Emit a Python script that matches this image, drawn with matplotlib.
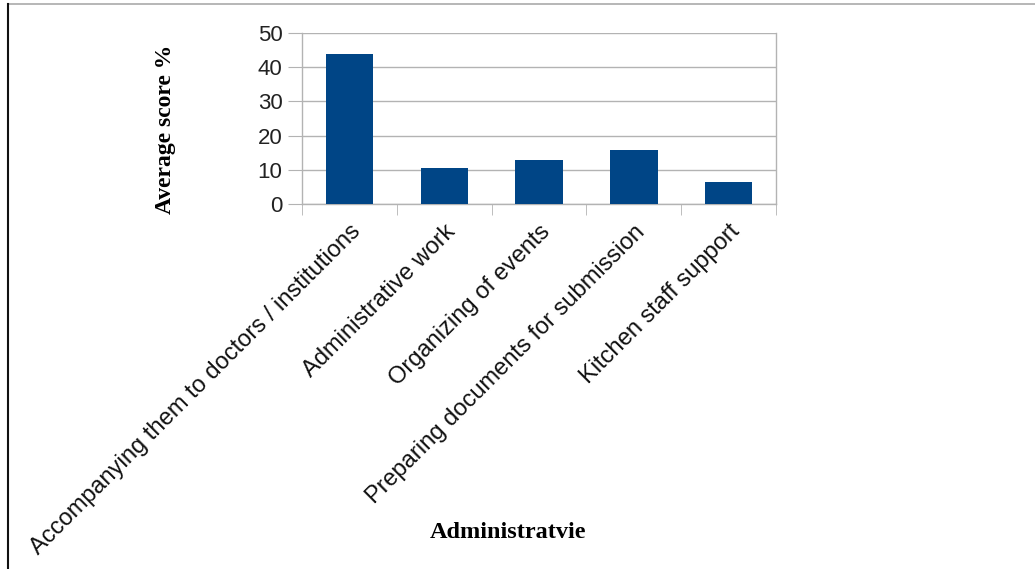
import matplotlib.pyplot as plt
from matplotlib.lines import Line2D

categories = [
    "Accompanying them to doctors / institutions",
    "Administrative work",
    "Organizing of events",
    "Preparing documents for submission",
    "Kitchen staff support",
]
scores = [43.8, 10.4, 12.8, 15.9, 6.3]
y_ticks = [0, 10, 20, 30, 40, 50]

bar_color = "#004586"
grid_color = "#b3b3b3"

fig = plt.figure(figsize=(10.35, 5.69), dpi=100)
ax = fig.add_axes([0.2918, 0.6415, 0.4580, 0.3005])

x = range(len(categories))
ax.bar(x, scores, width=0.5, color=bar_color, zorder=3)

ax.set_xlim(-0.5, len(categories) - 0.5)
ax.set_ylim(0, 50)
ax.set_yticks(y_ticks)
ax.yaxis.grid(True, color=grid_color, linewidth=1.0, zorder=0)

# category labels on major ticks, tick marks between categories
ax.set_xticks(list(x))
ax.set_xticklabels(categories, rotation=45, ha="right", va="top",
                   rotation_mode="anchor", fontsize=17,
                   family="Liberation Sans", color="#111111")
ax.tick_params(axis="x", which="major", length=0, pad=12)
ax.set_xticks([i - 0.5 for i in range(len(categories) + 1)], minor=True)
ax.tick_params(axis="x", which="minor", length=8, color=grid_color, direction="out")

ax.tick_params(axis="y", length=10, color=grid_color, labelsize=16, pad=4,
               labelcolor="#222222")
for lbl in ax.get_yticklabels():
    lbl.set_family("Liberation Sans")

for side in ["left", "right", "bottom", "top"]:
    ax.spines[side].set_color(grid_color)
    ax.spines[side].set_linewidth(1.0)
ax.spines["top"].set_visible(False)

fig.text(0.160, 0.772, "Average score %", rotation=90, ha="center", va="center",
         fontsize=17, fontweight="bold", family="Liberation Serif")
fig.text(0.491, 0.065, "Administratvie", ha="center", va="center",
         fontsize=17.5, fontweight="bold", family="Liberation Serif")

# page border lines
fig.add_artist(Line2D([0.0077, 1.0], [0.9935, 0.9935], color="#aaaaaa", linewidth=1.2))
fig.add_artist(Line2D([0.0077, 0.0077], [0.0, 0.9935], color="#111111", linewidth=1.5))

fig.savefig("out.png", dpi=100, facecolor="white")
